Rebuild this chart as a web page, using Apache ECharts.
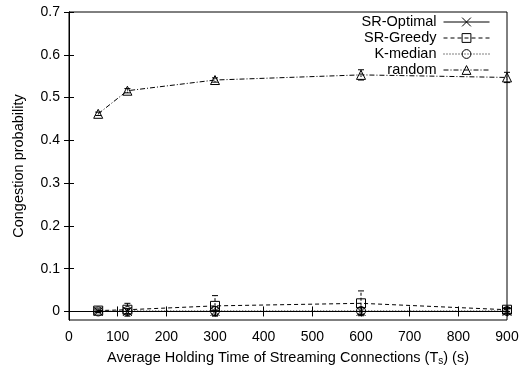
<!DOCTYPE html>
<html><head><meta charset="utf-8">
<script src="https://cdn.jsdelivr.net/npm/echarts@6/dist/echarts.min.js"></script>
<style>html,body{margin:0;padding:0;background:#fff}#c{width:520px;height:369px}</style>
</head><body><div id="c"></div>
<script>
const xValues = [60, 120, 300, 600, 900];
const srOptimal = [0, 0, 0, 0, 0];
const srOptimalErr = [0, 0, 0, 0, 0];
const srGreedy = [0.002, 0.004, 0.013, 0.019, 0.004];
const srGreedyErr = [0.004, 0.015, 0.024, 0.029, 0.005];
const kMedian = [0, 0.001, 0.001, 0.001, 0.001];
const kMedianErr = [0.003, 0.006, 0.01, 0.008, 0.006];
const randomP = [0.462, 0.516, 0.541, 0.553, 0.547];
const randomErr = [0.004, 0.005, 0.005, 0.012, 0.012];
const xTicks = [0, 100, 200, 300, 400, 500, 600, 700, 800, 900];
const yTicks = [0, 0.1, 0.2, 0.3, 0.4, 0.5, 0.6, 0.7];

const FONT = 'Liberation Sans';
const crossPath = 'path://M0,0L10,10M10,0L0,10';

function pts(vals){ return xValues.map((x,i)=>[x, vals[i]]); }
function errData(vals, errs){ return xValues.map((x,i)=>[x, vals[i]-errs[i], vals[i]+errs[i]]); }
function errSeries(vals, errs, dash){
  return {
    type: 'custom', silent: true, z: 3,
    data: errData(vals, errs),
    renderItem: function(params, api){
      const lo = api.coord([api.value(0), api.value(1)]);
      const hi = api.coord([api.value(0), api.value(2)]);
      const w = 3;
      const st = {stroke:'#000', lineWidth:1, lineDash: dash};
      return {type:'group', children:[
        {type:'line', shape:{x1:lo[0],y1:lo[1],x2:hi[0],y2:hi[1]}, style:st},
        {type:'line', shape:{x1:lo[0]-w,y1:lo[1],x2:lo[0]+w,y2:lo[1]}, style:{stroke:'#000',lineWidth:1}},
        {type:'line', shape:{x1:hi[0]-w,y1:hi[1],x2:hi[0]+w,y2:hi[1]}, style:{stroke:'#000',lineWidth:1}}
      ]};
    }
  };
}
function lineSeries(name, vals, symbol, dash){
  return {
    name: name, type: 'line', data: pts(vals), z: 4,
    symbol: symbol, symbolSize: 9, showAllSymbol: true,
    lineStyle: {color:'#000', width:1, type: dash},
    itemStyle: {color:'rgba(255,255,255,0)', borderColor:'#000', borderWidth:1},
    emphasis: {disabled:true}, animation:false
  };
}

const chart = echarts.init(document.getElementById('c'), null, {renderer:'canvas'});
chart.setOption({
  animation: false,
  textStyle: {fontFamily: FONT},
  grid: {left: 69, right: 13, top: 12, bottom: 49, show: true, borderColor:'#000', borderWidth:1,
    containLabel: false, outerBoundsMode: 'none'},
  legend: {
    orient: 'vertical', right: 25, top: 9, align: 'right',
    itemWidth: 46, itemHeight: 11, itemGap: 0,
    lineStyle: {width: 1},
    itemStyle: {borderWidth: 1},
    textStyle: {fontFamily: FONT, fontSize: 14.5, lineHeight: 16, color:'#000', padding:[0,2,0,0]},
    data: ['SR-Optimal','SR-Greedy','K-median','random']
  },
  xAxis: [{
    type: 'value', min: 0, max: 900, interval: 100,
    name: 'Average Holding Time of Streaming Connections (T{sub|s}) (s)',
    nameLocation: 'middle', nameGap: 29,
    nameTextStyle: {fontFamily: FONT, fontSize: 14.5, color:'#000',
      rich: {sub: {fontFamily: FONT, fontSize: 10, verticalAlign:'bottom', padding:[7,0,0,0], color:'#000'}}},
    axisLine: {show: true, lineStyle:{color:'#000'}},
    axisTick: {inside: true, length: 5, lineStyle:{color:'#000'}},
    axisLabel: {fontFamily: FONT, fontSize: 14, color:'#000', margin: 10},
    splitLine: {show:false}
  },{
    type: 'value', min: 0, max: 900, interval: 100, position: 'top',
    axisLine: {show: true, lineStyle:{color:'#000'}},
    axisTick: {inside: true, length: 5, lineStyle:{color:'#000'}},
    axisLabel: {show:false}, splitLine:{show:false}
  }],
  yAxis: [{
    type: 'value', min: -0.02, max: 0.7,
    name: 'Congestion probability', nameLocation: 'middle', nameGap: 43,
    nameTextStyle: {fontFamily: FONT, fontSize: 14.5, color:'#000'},
    axisLine: {show: true, lineStyle:{color:'#000'}},
    axisTick: {inside: true, length: 5, lineStyle:{color:'#000'}, customValues: yTicks},
    axisLabel: {fontFamily: FONT, fontSize: 14, color:'#000', margin: 9, customValues: yTicks,
      formatter: v => String(Math.round(v*10)/10)},
    splitLine: {show:false}
  },{
    type: 'value', min: -0.02, max: 0.7, position: 'right',
    axisLine: {show: true, lineStyle:{color:'#000'}},
    axisTick: {inside: true, length: 5, lineStyle:{color:'#000'}, customValues: yTicks},
    axisLabel: {show:false, customValues: yTicks}, splitLine:{show:false}
  }],
  series: [
    errSeries(srOptimal, srOptimalErr, null),
    errSeries(srGreedy, srGreedyErr, [3,2]),
    errSeries(kMedian, kMedianErr, [1,2]),
    errSeries(randomP, randomErr, [1,2]),
    lineSeries('SR-Optimal', srOptimal, crossPath, 'solid'),
    lineSeries('SR-Greedy', srGreedy, 'rect', [4,3]),
    lineSeries('K-median', kMedian, 'circle', [1,2]),
    lineSeries('random', randomP, 'triangle', [5,2,1,2])
  ]
});
</script></body></html>
